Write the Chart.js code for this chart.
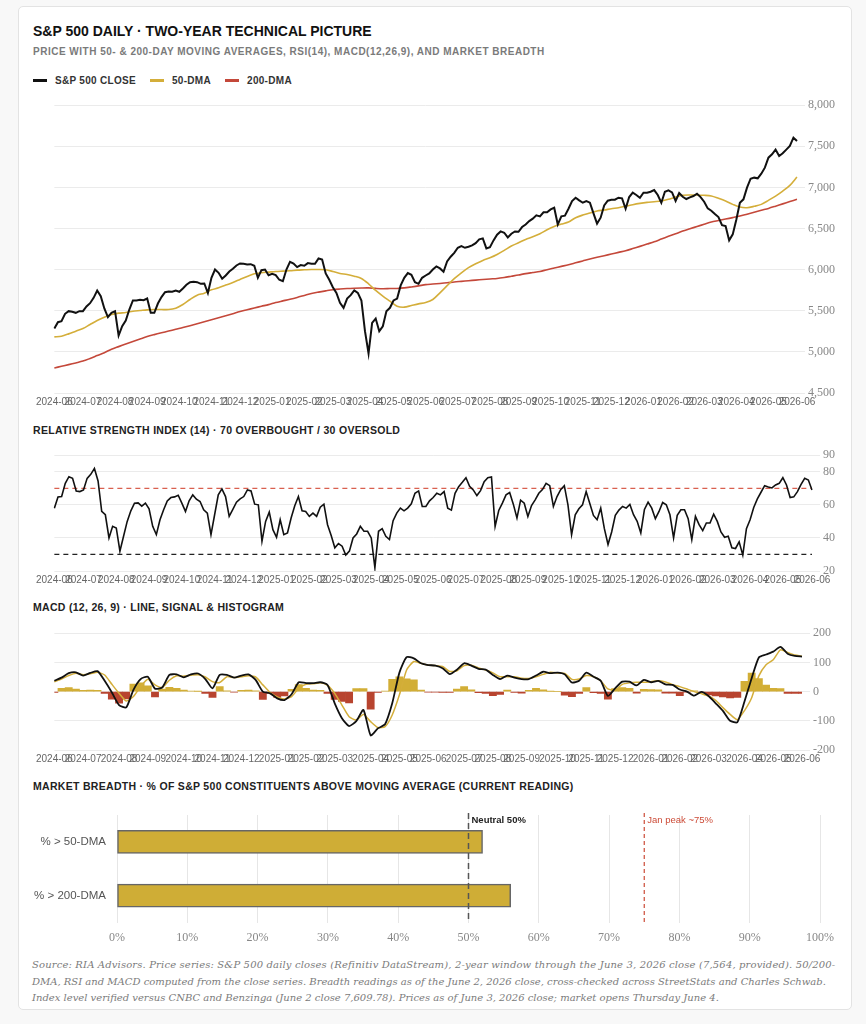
<!DOCTYPE html>
<html><head><meta charset="utf-8">
<script src="https://cdn.jsdelivr.net/npm/chart.js@4.4.1/dist/chart.umd.min.js"></script>
<style>
html,body{margin:0;padding:0;background:#f8f8f8;}
body{width:866px;height:1024px;position:relative;overflow:hidden;font-family:'Liberation Sans',Arial,sans-serif;}
#card{position:absolute;left:18px;top:6px;width:832px;height:1002px;background:#fff;border:1px solid #e3e3e3;border-radius:5px;}
.t{position:absolute;white-space:nowrap;}
#title{left:33px;top:23px;font-size:14px;font-weight:bold;color:#111;letter-spacing:0;}
#sub{left:33px;top:46px;font-size:10px;font-weight:bold;color:#7a7a7a;letter-spacing:0.5px;}
#legend{left:33px;top:75px;font-size:10px;font-weight:bold;color:#333;letter-spacing:0.3px;display:flex;align-items:center;}
#legend span.sw{display:inline-block;width:14px;height:3px;margin-right:8px;}
#legend span.it{display:inline-flex;align-items:center;margin-right:14px;}
.sec{font-size:10.5px;font-weight:bold;color:#222;letter-spacing:0.3px;left:33px;}
.wrap{position:absolute;}
#foot{left:32px;top:957px;font-family:'DejaVu Serif',serif;font-style:italic;font-size:10px;line-height:16.5px;color:#7b7b7b;}
#foot .l1{letter-spacing:0.15px;}
</style></head><body>
<div id="card"></div>
<div class="t" id="title">S&amp;P 500 DAILY · TWO-YEAR TECHNICAL PICTURE</div>
<div class="t" id="sub">PRICE WITH 50- &amp; 200-DAY MOVING AVERAGES, RSI(14), MACD(12,26,9), AND MARKET BREADTH</div>
<div class="t" id="legend">
 <span class="it"><span class="sw" style="background:#111"></span>S&amp;P 500 CLOSE</span>
 <span class="it"><span class="sw" style="background:#d4ae3a"></span>50-DMA</span>
 <span class="it"><span class="sw" style="background:#c4483a"></span>200-DMA</span>
</div>
<div class="wrap" style="left:33px;top:95px;width:805px;height:316px"><canvas id="cPrice"></canvas></div>
<div class="t sec" style="top:424px">RELATIVE STRENGTH INDEX (14) · 70 OVERBOUGHT / 30 OVERSOLD</div>
<div class="wrap" style="left:33px;top:445px;width:805px;height:144px"><canvas id="cRsi"></canvas></div>
<div class="t sec" style="top:601px">MACD (12, 26, 9) · LINE, SIGNAL &amp; HISTOGRAM</div>
<div class="wrap" style="left:33px;top:623px;width:805px;height:145px"><canvas id="cMacd"></canvas></div>
<div class="t sec" style="top:780px">MARKET BREADTH · % OF S&amp;P 500 CONSTITUENTS ABOVE MOVING AVERAGE (CURRENT READING)</div>
<div class="wrap" style="left:32px;top:805px;width:810px;height:148px"><canvas id="cBreadth"></canvas></div>
<div class="t" id="foot"><span class="l1">Source: RIA Advisors. Price series: S&amp;P 500 daily closes (Refinitiv DataStream), 2-year window through the June 3, 2026 close (7,564, provided). 50/200-</span><br>DMA, RSI and MACD computed from the close series. Breadth readings as of the June 2, 2026 close, cross-checked across StreetStats and Charles Schwab.<br>Index level verified versus CNBC and Benzinga (June 2 close 7,609.78). Prices as of June 3, 2026 close; market opens Thursday June 4.</div>
<script>
// Weekly session dates (Mondays; last = June 3, 2026 close)
const WEEKS = [
"2024-06-03","2024-06-10","2024-06-17","2024-06-24",
"2024-07-01","2024-07-08","2024-07-15","2024-07-22","2024-07-29",
"2024-08-05","2024-08-12","2024-08-19","2024-08-26",
"2024-09-02","2024-09-09","2024-09-16","2024-09-23","2024-09-30",
"2024-10-07","2024-10-14","2024-10-21","2024-10-28",
"2024-11-04","2024-11-11","2024-11-18","2024-11-25",
"2024-12-02","2024-12-09","2024-12-16","2024-12-23","2024-12-30",
"2025-01-06","2025-01-13","2025-01-20","2025-01-27",
"2025-02-03","2025-02-10","2025-02-17","2025-02-24",
"2025-03-03","2025-03-10","2025-03-17","2025-03-24","2025-03-31",
"2025-04-07","2025-04-14","2025-04-21","2025-04-28",
"2025-05-05","2025-05-12","2025-05-19","2025-05-26",
"2025-06-02","2025-06-09","2025-06-16","2025-06-23","2025-06-30",
"2025-07-07","2025-07-14","2025-07-21","2025-07-28",
"2025-08-04","2025-08-11","2025-08-18","2025-08-25",
"2025-09-01","2025-09-08","2025-09-15","2025-09-22","2025-09-29",
"2025-10-06","2025-10-13","2025-10-20","2025-10-27",
"2025-11-03","2025-11-10","2025-11-17","2025-11-24",
"2025-12-01","2025-12-08","2025-12-15","2025-12-22","2025-12-29",
"2026-01-05","2026-01-12","2026-01-19","2026-01-26",
"2026-02-02","2026-02-09","2026-02-16","2026-02-23",
"2026-03-02","2026-03-09","2026-03-16","2026-03-23","2026-03-30",
"2026-04-06","2026-04-13","2026-04-20","2026-04-27",
"2026-05-04","2026-05-11","2026-05-18","2026-05-25",
"2026-06-03"];

// Twice-weekly sessions (Monday + Thursday) for the close and RSI series
function thursdayOf(d){ const t = new Date(d + "T00:00:00Z"); t.setUTCDate(t.getUTCDate() + 3); return t.toISOString().slice(0,10); }
const SESSIONS = WEEKS.flatMap((d, i) => i < WEEKS.length - 1 ? [d, thursdayOf(d)] : [d]);

const CLOSE = [5284,5361,5373,5463,5495,5487,5475,5495,5495,5552,
5592,5657,5747,5678,5528,5422,5475,5495,5199,5312,
5381,5515,5625,5625,5633,5629,5649,5475,5475,5588,
5666,5726,5735,5731,5747,5731,5771,5816,5848,5852,
5848,5828,5832,5716,5901,6002,5962,5889,5929,5978,
6011,6051,6075,6071,6063,6067,6047,5901,5994,6002,
5933,5950,5933,5877,5860,6002,6096,6075,6031,6055,
6047,6080,6071,6071,6136,6124,5954,5877,5787,5718,
5597,5536,5649,5690,5747,5718,5625,5252,4980,5353,
5406,5252,5312,5495,5536,5625,5649,5808,5901,5958,
5937,5848,5828,5901,5929,5954,6002,6039,6015,5974,
6100,6157,6205,6266,6287,6266,6278,6295,6323,6368,
6380,6258,6274,6356,6425,6465,6449,6392,6437,6465,
6461,6518,6550,6591,6620,6660,6648,6697,6697,6733,
6753,6550,6648,6656,6741,6835,6875,6843,6814,6835,
6814,6684,6560,6632,6782,6839,6851,6851,6875,6867,
6740,6883,6936,6908,6875,6936,6936,6948,6968,6908,
6814,6948,6964,6940,6835,6932,6887,6859,6879,6895,
6924,6883,6826,6745,6717,6676,6640,6542,6530,6356,
6429,6607,6814,6855,6997,7106,7119,7111,7167,7240,
7362,7403,7460,7383,7415,7460,7504,7605,7564];

const DMA50 = [5183,5191,5219,5252,5284,5333,5381,5422,5455,5471,
5479,5495,5503,5511,5515,5515,5515,5532,5576,5637,
5690,5714,5755,5779,5812,5844,5881,5917,5950,5962,
5970,5978,5982,5986,5994,5998,6002,6002,5998,5978,
5954,5942,5921,5893,5828,5747,5678,5617,5556,5544,
5564,5584,5601,5637,5718,5805,5890,5962,6025,6071,
6112,6145,6185,6234,6287,6327,6368,6400,6437,6485,
6526,6554,6579,6632,6664,6688,6713,6725,6741,6753,
6770,6790,6806,6818,6826,6835,6855,6883,6904,6908,
6908,6904,6895,6867,6835,6794,6761,6753,6770,6794,
6843,6895,6956,7025,7127];

const DMA200 = [4805,4825,4845,4866,4888,4920,4955,4990,5032,5064,
5095,5125,5156,5186,5210,5232,5253,5275,5296,5319,
5343,5367,5391,5416,5440,5465,5490,5512,5534,5555,
5575,5600,5620,5640,5662,5686,5710,5727,5742,5756,
5764,5770,5774,5777,5778,5772,5768,5770,5771,5778,
5790,5803,5818,5825,5832,5840,5850,5858,5866,5873,
5880,5887,5893,5905,5920,5935,5952,5965,5978,6000,
6020,6040,6060,6083,6106,6129,6150,6170,6190,6210,
6230,6256,6283,6311,6339,6372,6405,6437,6469,6497,
6525,6552,6579,6597,6615,6633,6652,6675,6698,6722,
6745,6772,6800,6828,6855];

const RSI = [58,64.8,65,73,77,76,68.4,68,69,76,
78.4,82,74.4,56,54,40,47,46,32,41,
50,56.4,61,61.2,59.2,61,57.6,47,42,51,
57,62.4,64.4,64.8,65.8,61,56,62.4,66,63.4,
62,57,55,42,54,66,69.6,65,53,57.2,
61.6,63.6,65,69,68.4,60.4,60,38,50,55.6,
45,40.4,51,42,43,52,59.4,65,56.4,56,
53,55,53,58.6,60.4,48,41.4,34,36.6,35,
29.6,32,40,42.4,47,44,44,40,22,44,
45.6,41,39,50.4,55,58,56.4,58,60.6,67,
68.4,59,59,62.4,64.4,67,66,68,58,56.8,
67,71,73.6,76.4,71.2,69,65.6,68.6,74,76.4,
76.8,47,56.6,61,66,67.4,60.4,52,62.8,61,
53,59.6,63,67,69.2,73,71.6,59,65,69.2,
71.6,60,42,54,57.6,60,68,60.8,53.6,51,
58,45.6,36,43.6,53.6,56.8,59,58,60.2,54,
50,43,57.2,61.6,58,51.6,56,61.4,60,54,
40,53.6,57,57,51.6,39,53,48,44.4,49,
49,54.4,50,43.6,40.4,41,34,33.6,37.6,29.6,
45.6,51,58.4,63.6,67.6,71.6,70.8,70.2,72,73,
76.4,72,64.4,64.8,68,72.4,76,75,69];
const RSI_LEVELS = [70, 30];

const MACD = [37,48,63,66,55,64,70,37,-3,-46,
-54,6,43,51,10,14,57,59,49,59,
62,43,11,57,57,48,55,59,40,0,
-6,-23,-29,-9,32,29,29,32,23,-40,
-91,-118,-101,-63,-150,-126,-112,-40,65,118,
114,97,91,89,80,60,75,97,89,78,
75,57,43,55,48,43,43,55,68,63,
65,59,31,37,65,51,37,-15,11,34,
34,21,40,32,37,25,23,7,0,-14,
-1,-15,-40,-66,-100,-105,-34,46,117,127,
137,153,130,122,120];

const SIGNAL = [34,43,55,63,58,61,66,57,25,-6,
-32,-17,17,42,23,14,39,54,53,56,
58,50,34,31,51,48,51,54,50,23,
-3,-18,-25,-17,11,25,27,30,21,-6,
-46,-86,-97,-78,-103,-123,-120,-80,-11,74,
103,97,91,89,86,69,71,89,90,81,
74,64,51,51,51,46,45,51,59,66,
64,62,42,43,55,51,37,9,5,25,
30,32,32,34,37,33,24,17,9,0,
-7,-15,-30,-55,-78,-96,-65,-21,54,92,
109,143,134,125,121];

const HIST = [-3,11,14,9,4,5,4,-6,-26,-40,
-25,26,30,20,-18,9,15,11,5,2,
1,-6,-20,17,3,-2,4,5,3,-27,
-6,-20,-15,8,24,11,5,4,-6,-27,
-34,-39,10,10,-60,-3,2,42,51,44,
40,5,-2,-2,-3,-3,9,17,6,-4,
-6,-14,-10,5,-3,-5,4,11,6,1,
0,-12,-17,-6,14,-4,-6,-26,10,14,
11,-5,8,7,6,-5,-5,-14,-2,3,
-2,-11,-15,-18,-22,-20,35,63,45,22,
11,10,-6,-6,-6];

const BREADTH_LABELS = ["% > 50-DMA", "% > 200-DMA"];
const BREADTH_VALUES = [52, 56];
const BREADTH_MARKERS = [
  {value: 50, label: "Neutral 50%", color: "#555", dash: [6,4], width: 1.5, bold: true},
  {value: 75, label: "Jan peak ~75%", color: "#cc4b37", dash: [4,3], width: 1.2, bold: false}
];

// place weekly series on the twice-weekly session axis (gaps on Thursdays)
const onSessions = arr => arr.flatMap((v, i) => i < arr.length - 1 ? [v, null] : [v]);

const GOLD = '#d4ae3a', RED = '#c4483a', GRID = '#ebebeb';
Chart.defaults.animation = false;
Chart.defaults.plugins.legend.display = false;
Chart.defaults.plugins.tooltip.enabled = false;
Chart.defaults.font.family = "'Liberation Sans', Arial, sans-serif";

function timeX(){
  return {
    type: 'category', offset: false,
    grid: {display: false, drawTicks: false}, border: {display: false},
    ticks: {autoSkip: false, maxRotation: 0, minRotation: 0, padding: 3, color: '#666',
      font: {family: "'Liberation Sans', Arial, sans-serif", size: 10},
      callback: function(v, i){
        const m = this.getLabelForValue(v).slice(0,7);
        if (i === 0) return m;
        const p = this.getLabelForValue(v-1).slice(0,7);
        return m !== p ? m : null;
      }}
  };
}
function rightY(min, max, step, w){
  return {
    position: 'right', min: min, max: max,
    ticks: {stepSize: step, color: '#888', padding: 3, font: {family: "'Liberation Serif', serif", size: 12}},
    grid: {color: GRID, tickLength: 8}, border: {display: false},
    afterFit: function(s){ s.width = w; }
  };
}

new Chart(document.getElementById('cPrice'), {
  type: 'line',
  data: {labels: SESSIONS, datasets: [
    {data: CLOSE, borderColor: '#111', borderWidth: 2, pointRadius: 0, tension: 0},
    {data: onSessions(DMA50), borderColor: GOLD, borderWidth: 1.6, pointRadius: 0, tension: 0.3, spanGaps: true},
    {data: onSessions(DMA200), borderColor: RED, borderWidth: 1.6, pointRadius: 0, tension: 0.3, spanGaps: true}
  ]},
  options: {responsive: true, maintainAspectRatio: false, layout: {padding: {top: 3}},
    scales: {x: timeX(), y: rightY(4500, 8000, 500, 41)}}
});

const rsiLines = {
  id: 'rsiLines',
  beforeDatasetsDraw(chart){
    const {ctx, chartArea: a, scales: {y}} = chart;
    ctx.save();
    ctx.lineWidth = 1.3;
    ctx.setLineDash([5,4]);
    RSI_LEVELS.forEach((lv, k) => {
      const py = y.getPixelForValue(lv);
      ctx.strokeStyle = k === 0 ? '#d9604f' : '#222';
      ctx.beginPath(); ctx.moveTo(a.left, py); ctx.lineTo(a.right, py); ctx.stroke();
    });
    ctx.restore();
  }
};
new Chart(document.getElementById('cRsi'), {
  type: 'line',
  data: {labels: SESSIONS, datasets: [
    {data: RSI, borderColor: '#111', borderWidth: 1.6, pointRadius: 0, tension: 0}
  ]},
  options: {responsive: true, maintainAspectRatio: false,
    scales: {x: timeX(), y: rightY(20, 90, 20, 26)}},
  plugins: [rsiLines]
});

new Chart(document.getElementById('cMacd'), {
  type: 'bar',
  data: {labels: WEEKS, datasets: [
    {type: 'line', data: MACD, borderColor: '#111', borderWidth: 1.8, pointRadius: 0, tension: 0.2},
    {type: 'line', data: SIGNAL, borderColor: GOLD, borderWidth: 1.5, pointRadius: 0, tension: 0.2},
    {type: 'bar', data: HIST, barPercentage: 1, categoryPercentage: 1, borderWidth: 0,
      backgroundColor: (c) => (c.raw >= 0 ? '#d2ae36' : '#b8442f')}
  ]},
  options: {responsive: true, maintainAspectRatio: false,
    scales: {x: timeX(), y: rightY(-200, 200, 100, 36)}}
});

const breadthMarkers = {
  id: 'breadthMarkers',
  afterDatasetsDraw(chart){
    const {ctx, chartArea: a, scales: {x}} = chart;
    ctx.save();
    BREADTH_MARKERS.forEach(m => {
      const px = x.getPixelForValue(m.value);
      ctx.strokeStyle = m.color; ctx.lineWidth = m.width; ctx.setLineDash(m.dash);
      ctx.beginPath(); ctx.moveTo(px, a.top - 2); ctx.lineTo(px, a.bottom); ctx.stroke();
      ctx.setLineDash([]);
      ctx.fillStyle = m.bold ? '#222' : m.color;
      ctx.font = (m.bold ? 'bold ' : '') + "9.5px 'Liberation Sans', Arial, sans-serif";
      ctx.textBaseline = 'top'; ctx.textAlign = 'left';
      ctx.fillText(m.label, px + 3, a.top + 1);
    });
    ctx.restore();
  }
};
new Chart(document.getElementById('cBreadth'), {
  type: 'bar',
  data: {labels: BREADTH_LABELS, datasets: [
    {data: BREADTH_VALUES, backgroundColor: '#cfad36', borderColor: '#666', borderWidth: 1.5,
     borderSkipped: false, barThickness: 23}
  ]},
  options: {indexAxis: 'y', responsive: true, maintainAspectRatio: false,
    layout: {padding: {top: 10, right: 0}},
    scales: {
      x: {min: 0, max: 100, ticks: {stepSize: 10, padding: 8, color: '#888', font: {family: "'Liberation Serif', serif", size: 12},
            callback: v => v + '%'},
          grid: {color: '#e6e6e6', drawTicks: false}, border: {display: false}},
      y: {grid: {display: false}, border: {display: false},
          ticks: {color: '#555', font: {size: 11.5}},
          afterFit: function(s){ s.width = 85; }}
    }},
  plugins: [breadthMarkers]
});
</script>
</body></html>
